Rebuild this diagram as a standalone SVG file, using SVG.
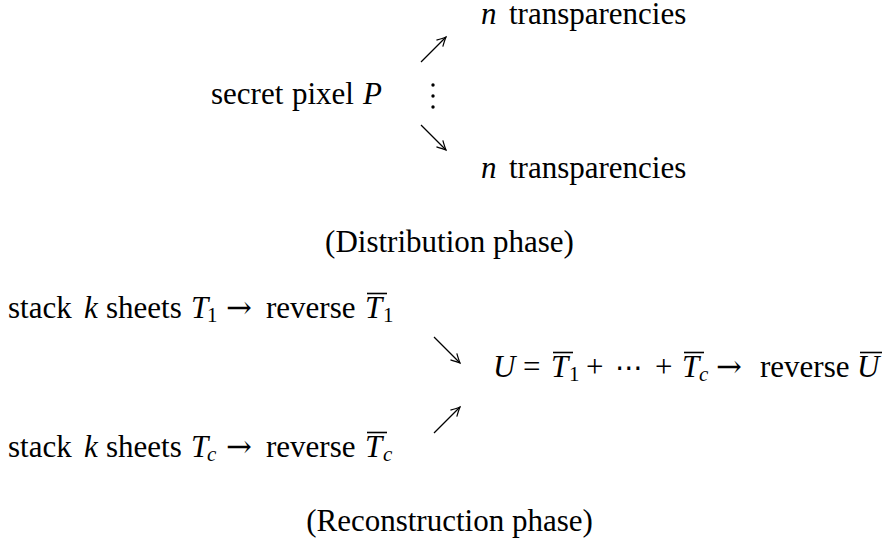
<svg xmlns="http://www.w3.org/2000/svg" width="895" height="550" viewBox="0 0 895 550">
<defs>
<marker id="ah" viewBox="-11 -6 13 12" markerWidth="13" markerHeight="12" refX="0" refY="0" orient="auto" markerUnits="userSpaceOnUse">
<path d="M-9,-4.5 Q-3,-1.2 0,0 Q-3,1.2 -9,4.5" fill="none" stroke="#000" stroke-width="1.2"/>
</marker>
</defs>
<rect width="895" height="550" fill="#fff"/>

<g id="connectors" stroke="#000" stroke-width="1.3" fill="none">
<line x1="421" y1="62" x2="446" y2="37" marker-end="url(#ah)"/>
<line x1="421" y1="125" x2="446" y2="150" marker-end="url(#ah)"/>
<line x1="434" y1="337" x2="460" y2="363" marker-end="url(#ah)"/>
<line x1="434" y1="433" x2="460" y2="407" marker-end="url(#ah)"/>
</g>

<g id="node-vdots" fill="#000">
<circle cx="433" cy="85" r="1.7"/>
<circle cx="433" cy="96" r="1.7"/>
<circle cx="433" cy="107" r="1.7"/>
</g>

<g id="node-top-transparencies">
<text font-family="Liberation Serif" font-size="31" font-style="italic" x="481" y="24">n</text>
<text font-family="Liberation Serif" font-size="31" x="509" y="24">transparencies</text>
</g>

<g id="node-secret-pixel">
<text font-family="Liberation Serif" font-size="31" x="211" y="104">secret</text>
<text font-family="Liberation Serif" font-size="31" x="292" y="104">pixel</text>
<text font-family="Liberation Serif" font-size="31" font-style="italic" x="363" y="104">P</text>
</g>

<g id="node-bottom-transparencies">
<text font-family="Liberation Serif" font-size="31" font-style="italic" x="481" y="178">n</text>
<text font-family="Liberation Serif" font-size="31" x="509" y="178">transparencies</text>
</g>

<g id="label-distribution">
<text font-family="Liberation Serif" font-size="31" x="449.5" y="252" text-anchor="middle">(Distribution phase)</text>
</g>

<g id="node-stack-1">
<text font-family="Liberation Serif" font-size="31" x="8" y="318">stack</text>
<text font-family="Liberation Serif" font-size="31" font-style="italic" x="84" y="318">k</text>
<text font-family="Liberation Serif" font-size="31" x="106" y="318">sheets</text>
<text font-family="Liberation Serif" font-size="31" font-style="italic" x="191" y="318">T</text>
<text font-family="Liberation Serif" font-size="21" x="207" y="322">1</text>
<text font-family="DejaVu Serif" font-size="31" x="226" y="318">→</text>
<text font-family="Liberation Serif" font-size="31" x="266" y="318">reverse</text>
<text font-family="Liberation Serif" font-size="31" font-style="italic" x="365" y="318">T</text>
<line stroke="#000" stroke-width="1.6" x1="367" y1="293.5" x2="387" y2="293.5"/>
<text font-family="Liberation Serif" font-size="21" x="383" y="322">1</text>
</g>

<g id="node-stack-c">
<text font-family="Liberation Serif" font-size="31" x="8" y="457">stack</text>
<text font-family="Liberation Serif" font-size="31" font-style="italic" x="84" y="457">k</text>
<text font-family="Liberation Serif" font-size="31" x="106" y="457">sheets</text>
<text font-family="Liberation Serif" font-size="31" font-style="italic" x="191" y="457">T</text>
<text font-family="Liberation Serif" font-size="21" font-style="italic" x="207" y="461">c</text>
<text font-family="DejaVu Serif" font-size="31" x="226" y="457">→</text>
<text font-family="Liberation Serif" font-size="31" x="266" y="457">reverse</text>
<text font-family="Liberation Serif" font-size="31" font-style="italic" x="365" y="457">T</text>
<line stroke="#000" stroke-width="1.6" x1="367" y1="432.5" x2="387" y2="432.5"/>
<text font-family="Liberation Serif" font-size="21" font-style="italic" x="383" y="461">c</text>
</g>

<g id="node-U">
<text font-family="Liberation Serif" font-size="31" font-style="italic" x="493" y="377">U</text>
<text font-family="Liberation Serif" font-size="31" x="523" y="377">=</text>
<text font-family="Liberation Serif" font-size="31" font-style="italic" x="551" y="377">T</text>
<line stroke="#000" stroke-width="1.6" x1="553" y1="352.5" x2="573" y2="352.5"/>
<text font-family="Liberation Serif" font-size="21" x="569" y="381">1</text>
<text font-family="Liberation Serif" font-size="31" x="586" y="377">+</text>
<text font-family="DejaVu Sans" font-size="28" x="615" y="377">⋯</text>
<text font-family="Liberation Serif" font-size="31" x="655" y="377">+</text>
<text font-family="Liberation Serif" font-size="31" font-style="italic" x="682" y="377">T</text>
<line stroke="#000" stroke-width="1.6" x1="684" y1="352.5" x2="704" y2="352.5"/>
<text font-family="Liberation Serif" font-size="21" font-style="italic" x="699" y="381">c</text>
<text font-family="DejaVu Serif" font-size="31" x="716" y="377">→</text>
<text font-family="Liberation Serif" font-size="31" x="760" y="377">reverse</text>
<text font-family="Liberation Serif" font-size="31" font-style="italic" x="857" y="377">U</text>
<line stroke="#000" stroke-width="1.6" x1="860" y1="352.5" x2="882" y2="352.5"/>
</g>

<g id="label-reconstruction">
<text font-family="Liberation Serif" font-size="31" x="449.5" y="531" text-anchor="middle">(Reconstruction phase)</text>
</g>
</svg>
